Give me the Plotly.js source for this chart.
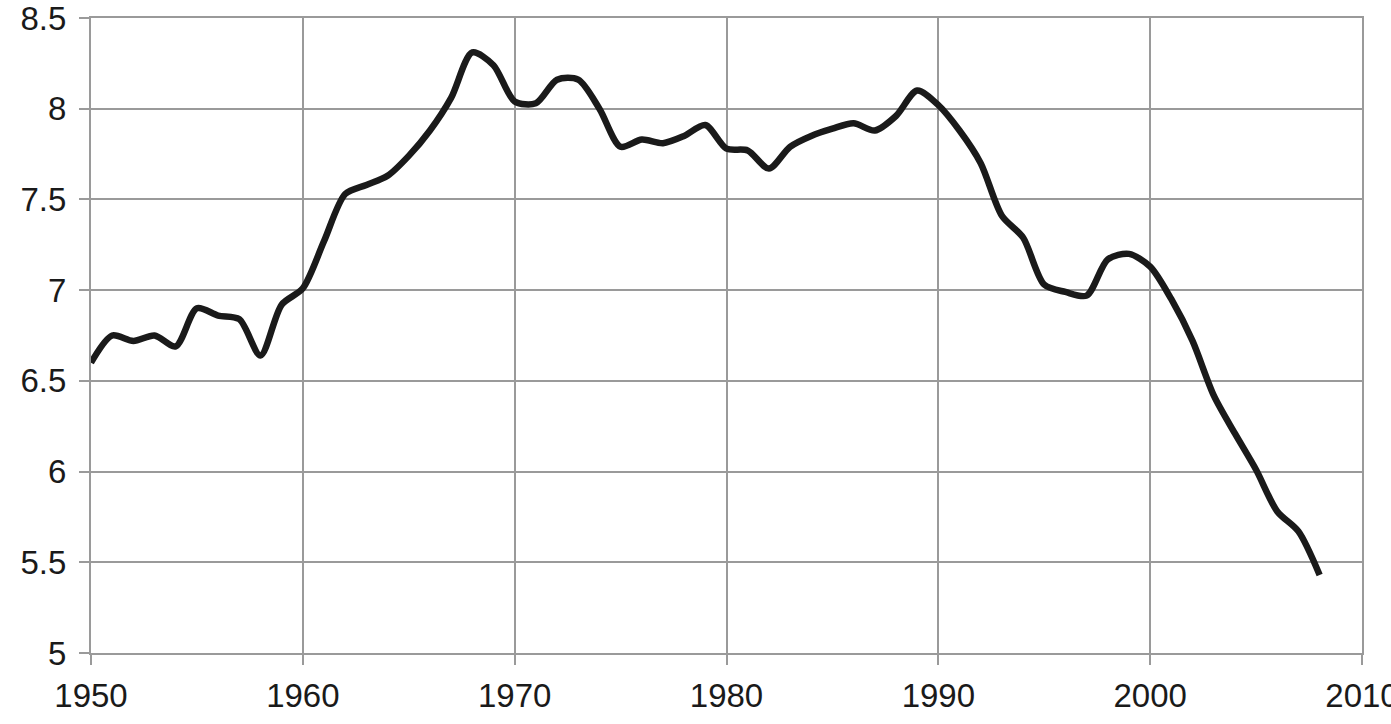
<!DOCTYPE html>
<html>
<head>
<meta charset="utf-8">
<script src="https://cdn.plot.ly/plotly-3.0.1.min.js"></script>
<style>html,body{margin:0;padding:0;background:#fff;overflow:hidden;}#chart{width:1391px;height:724px;}</style>
</head>
<body>
<div id="chart"></div>
<script>
const years = [1950,1951,1952,1953,1954,1955,1956,1957,1958,1959,
               1960,1961,1962,1963,1964,1965,1966,1967,1968,1969,
               1970,1971,1972,1973,1974,1975,1976,1977,1978,1979,
               1980,1981,1982,1983,1984,1985,1986,1987,1988,1989,
               1990,1991,1992,1993,1994,1995,1996,1997,1998,1999,
               2000,2001,2002,2003,2004,2005,2006,2007,2008];
const values = [6.60,6.75,6.72,6.75,6.69,6.90,6.86,6.84,6.64,6.92,
                7.01,7.27,7.53,7.58,7.63,7.74,7.88,8.06,8.31,8.24,
                8.04,8.03,8.16,8.16,8.00,7.79,7.83,7.81,7.85,7.91,
                7.78,7.77,7.67,7.79,7.85,7.89,7.92,7.88,7.96,8.10,
                8.02,7.88,7.70,7.41,7.29,7.03,6.99,6.97,7.17,7.20,
                7.13,6.95,6.72,6.42,6.21,6.01,5.78,5.67,5.43];
const xTicks = [1950,1960,1970,1980,1990,2000,2010];
const yTicks = [5,5.5,6,6.5,7,7.5,8,8.5];

const gridColor = '#9a9a9a';
const tickFont = {family: 'Liberation Sans, Arial, sans-serif', size: 33, color: '#1a1a1a'};

const axisCommon = {
  showgrid: true, gridcolor: gridColor, gridwidth: 2,
  ticks: 'outside', ticklen: 10, tickwidth: 2, tickcolor: gridColor,
  showline: true, linecolor: gridColor, linewidth: 2, mirror: true,
  zeroline: false, tickfont: tickFont, ticklabeloverflow: 'allow'
};

Plotly.newPlot('chart', [{
  x: years, y: values, type: 'scatter', mode: 'lines',
  line: {color: '#1a1a1a', width: 6.5, shape: 'spline', smoothing: 0.8},
  hoverinfo: 'skip'
}], {
  width: 1391, height: 724,
  margin: {l: 91, r: 29, t: 18, b: 71, pad: 0},
  paper_bgcolor: '#fff', plot_bgcolor: '#fff',
  showlegend: false,
  xaxis: Object.assign({range: [1950, 2010], tickvals: xTicks, ticktext: xTicks.map(String), ticklabelstandoff: 2}, axisCommon),
  yaxis: Object.assign({range: [5, 8.5], tickvals: yTicks, ticktext: yTicks.map(String), ticklabelstandoff: 6}, axisCommon)
}, {staticPlot: true});
</script>
</body>
</html>
